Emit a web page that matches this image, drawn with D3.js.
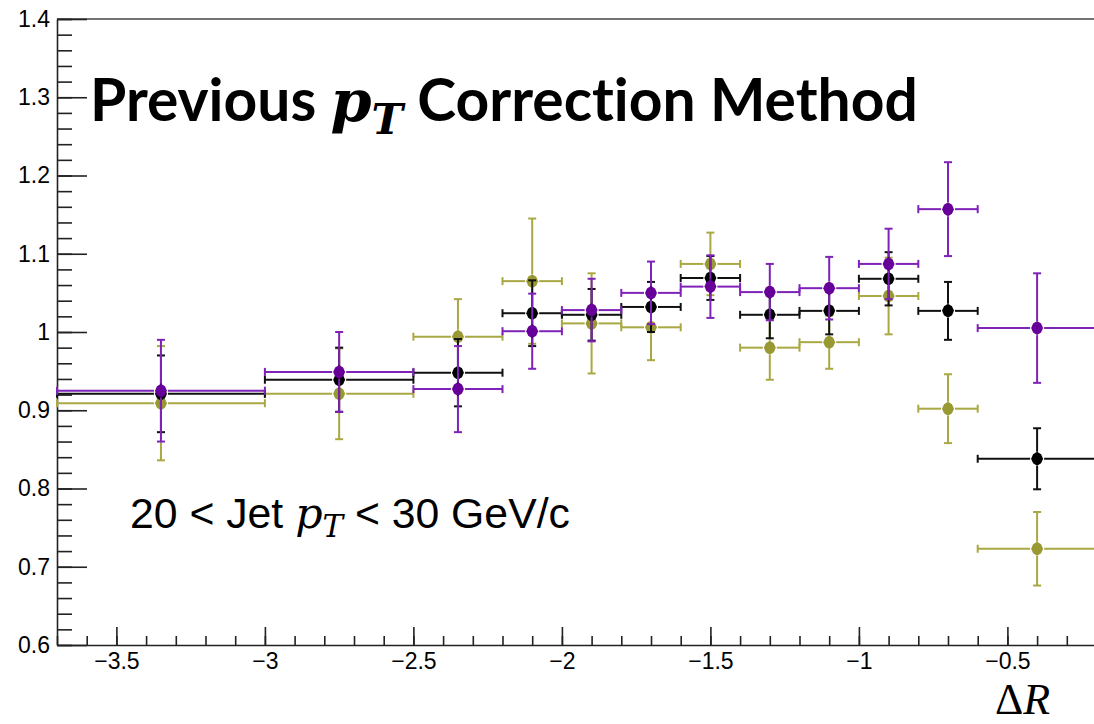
<!DOCTYPE html>
<html>
<head>
<meta charset="utf-8">
<script src="https://cdn.jsdelivr.net/npm/d3@7"></script>
<style>
  body { margin: 0; background: #fff; }
  svg { display: block; }
  text { font-variant-ligatures: none; }
  .tick text { font-family: "Liberation Sans", Arial, sans-serif; font-size: 23px; fill: #000; }
</style>
</head>
<body>
<svg id="chart"></svg>
<script>
// bins in delta R
var binLo = [-3.7, -3.0, -2.5, -2.2, -2.0, -1.8, -1.6, -1.4, -1.2, -1.0, -0.8, -0.6];
var binHi = [-3.0, -2.5, -2.2, -2.0, -1.8, -1.6, -1.4, -1.2, -1.0, -0.8, -0.6, -0.2];

// black series
var blackVals = [0.921, 0.939, 0.948, 1.024, 1.022, 1.032, 1.069, 1.022, 1.027, 1.068, 1.027, 0.838];
var blackErrs = [0.049, 0.041, 0.043, 0.042, 0.033, 0.032, 0.028, 0.030, 0.030, 0.034, 0.037, 0.039];

// purple series
var purpleVals = [0.925, 0.949, 0.927, 1.001, 1.028, 1.050, 1.058, 1.051, 1.056, 1.087, 1.157, 1.005];
var purpleErrs = [0.065, 0.051, 0.055, 0.048, 0.040, 0.040, 0.040, 0.036, 0.040, 0.045, 0.060, 0.070];

// olive series
var oliveVals = [0.909, 0.921, 0.994, 1.065, 1.011, 1.006, 1.087, 0.980, 0.987, 1.046, 0.902, 0.723];
var oliveErrs = [0.073, 0.058, 0.048, 0.080, 0.064, 0.042, 0.040, 0.041, 0.034, 0.049, 0.044, 0.047];

var xMajor = [-3.5, -3, -2.5, -2, -1.5, -1, -0.5];
var yMajor = [0.6, 0.7, 0.8, 0.9, 1.0, 1.1, 1.2, 1.3, 1.4];

var W = 1094, H = 724;
var padLeft = 57, padTop = 19, padBottom = 645;

var svg = d3.select("#chart").attr("width", W).attr("height", H);

var x = d3.scaleLinear().domain([-3.7, -0.2]).range([padLeft, padLeft + 3.5 * 297]);
var y = d3.scaleLinear().domain([0.6, 1.4]).range([padBottom, padTop]);

// minor ticks
var xMinor = d3.range(-37, -1).map(function(d) { return d / 10; });
var yMinor = d3.range(30, 71).map(function(d) { return d / 50; });

var fmt = function(d) { return d3.format("")(+d.toFixed(1)); };

// top frame line
svg.append("line")
  .attr("x1", padLeft).attr("x2", W)
  .attr("y1", padTop).attr("y2", padTop)
  .attr("stroke", "#444").attr("stroke-width", 1.6);

// x axis
svg.append("g")
  .attr("transform", "translate(0," + padBottom + ")")
  .call(d3.axisBottom(x).tickValues(xMinor).tickSize(-9).tickSizeOuter(0).tickFormat(""))
  .call(function(g) { g.select(".domain").remove(); })
  .selectAll("line").attr("stroke", "#222").attr("stroke-width", 1.6);

svg.append("g")
  .attr("transform", "translate(0," + padBottom + ")")
  .call(d3.axisBottom(x).tickValues(xMajor).tickSize(-18).tickSizeOuter(0).tickPadding(8).tickFormat(fmt))
  .call(function(g) {
    g.select(".domain").attr("stroke", "#222").attr("stroke-width", 1.6);
    g.selectAll("line").attr("stroke", "#222").attr("stroke-width", 1.6);
  });

// y axis
svg.append("g")
  .attr("transform", "translate(" + padLeft + ",0)")
  .call(d3.axisLeft(y).tickValues(yMinor).tickSize(-15).tickSizeOuter(0).tickFormat(""))
  .call(function(g) { g.select(".domain").remove(); })
  .selectAll("line").attr("stroke", "#222").attr("stroke-width", 1.6);

svg.append("g")
  .attr("transform", "translate(" + padLeft + ",0)")
  .call(d3.axisLeft(y).tickValues(yMajor).tickSize(-30).tickSizeOuter(0).tickPadding(7).tickFormat(fmt))
  .call(function(g) {
    g.select(".domain").attr("stroke", "#222").attr("stroke-width", 1.6);
    g.selectAll("line").attr("stroke", "#222").attr("stroke-width", 1.6);
  });

// error bars + markers
function drawSeries(vals, errs, lineColor, markerColor) {
  var data = vals.map(function(v, i) {
    return { lo: binLo[i], hi: binHi[i], c: (binLo[i] + binHi[i]) / 2, v: v, e: errs[i] };
  });
  var g = svg.append("g").attr("stroke", lineColor).attr("stroke-width", 2).attr("fill", "none");
  var gap = 7, cap = 4;
  data.forEach(function(d) {
    var cx = x(d.c), cy = y(d.v);
    var segs = [
      [x(d.lo), cy, cx - gap, cy],
      [cx + gap, cy, x(d.hi), cy],
      [cx, y(d.v + d.e), cx, cy - gap],
      [cx, cy + gap, cx, y(d.v - d.e)],
      // caps
      [x(d.lo), cy - cap, x(d.lo), cy + cap],
      [x(d.hi), cy - cap, x(d.hi), cy + cap],
      [cx - cap, y(d.v + d.e), cx + cap, y(d.v + d.e)],
      [cx - cap, y(d.v - d.e), cx + cap, y(d.v - d.e)]
    ];
    segs.forEach(function(s) {
      g.append("line").attr("x1", s[0]).attr("y1", s[1]).attr("x2", s[2]).attr("y2", s[3]);
    });
  });
  svg.append("g").selectAll("path")
    .data(data)
    .enter()
    .append("path")
    .attr("d", "M0,-7 L4,-4.5 L6,0 L4,4.5 L0,7 L-4,4.5 L-6,0 L-4,-4.5 Z")
    .attr("transform", function(d) { return "translate(" + x(d.c) + "," + y(d.v) + ")"; })
    .attr("fill", markerColor);
}

drawSeries(oliveVals, oliveErrs, "#a9a843", "#999933");
drawSeries(blackVals, blackErrs, "#111", "#000");
drawSeries(purpleVals, purpleErrs, "#7e22b8", "#660099");

// text with p_T in math italic, fitted to a width
function mathLabel(xPos, yPos, before, after, size, weight, family, target) {
  var t = svg.append("text").attr("x", xPos).attr("y", yPos).attr("fill", "#000");
  var a = t.append("tspan").attr("font-family", family).attr("font-weight", weight).text(before);
  var p = t.append("tspan").attr("font-family", "'DejaVu Serif', 'Liberation Serif', serif").attr("font-style", "italic").attr("font-weight", weight).text("p");
  var s = t.append("tspan").attr("font-family", "'DejaVu Serif', 'Liberation Serif', serif").attr("font-style", "italic").attr("font-weight", weight).text("T");
  var b = t.append("tspan").attr("font-family", family).attr("font-weight", weight).text(after);
  function setSize(z) {
    a.attr("font-size", z); p.attr("font-size", z); s.attr("font-size", z * 0.72); b.attr("font-size", z);
    s.attr("dy", z * 0.22); b.attr("dy", -z * 0.22);
  }
  setSize(size);
  var len = t.node().getComputedTextLength();
  setSize(size * target / len);
  return t;
}

mathLabel(90, 121, "Previous ", " Correction Method", 50, "bold", "Lato, 'Liberation Sans', sans-serif", 828);
mathLabel(130, 528, "20 < Jet ", " < 30 GeV/c", 40, "normal", "'Liberation Sans', Arial, sans-serif", 440);

// axis title
var ax = svg.append("text").attr("x", 995).attr("y", 714)
  .attr("font-family", "'Liberation Serif', 'DejaVu Serif', serif").attr("font-size", 44).attr("fill", "#000");
ax.append("tspan").text("Δ");
ax.append("tspan").attr("font-style", "italic").text("R");
</script>
</body>
</html>
